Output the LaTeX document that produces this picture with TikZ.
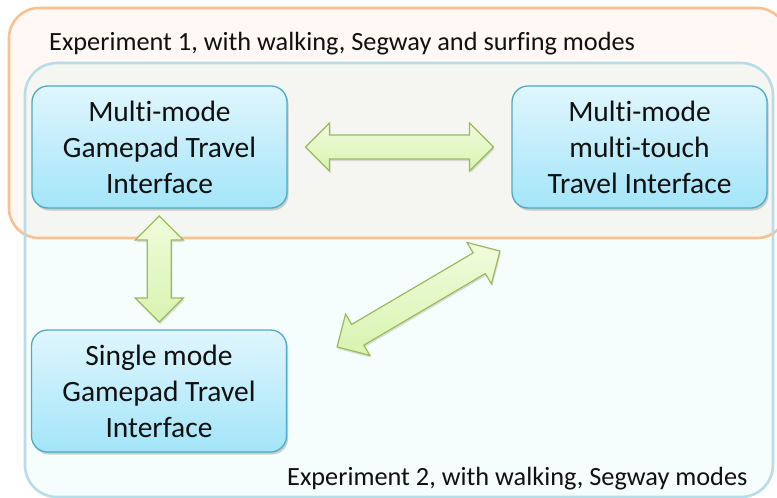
\documentclass[tikz,border=0pt]{standalone}
\usepackage{fontspec}
\setmainfont{Carlito}[Ligatures={NoCommon}]
\usetikzlibrary{calc,shadows}
\definecolor{orline}{HTML}{FAC090}
\definecolor{orfill}{HTML}{FFF8F4}
\definecolor{blline}{HTML}{B7DDE8}
\definecolor{blfill}{HTML}{F5FDFD}
\definecolor{ovfill}{HTML}{F5F6F1}
\definecolor{boxtop}{HTML}{E0F6FD}
\definecolor{boxbot}{HTML}{A3E5F9}
\definecolor{boxline}{HTML}{4DABC6}
\definecolor{arrtop}{HTML}{F0FCDC}
\definecolor{arrbot}{HTML}{D8F3B0}
\definecolor{arrline}{HTML}{9BBB59}
\definecolor{txt}{HTML}{111111}
\begin{document}
\begin{tikzpicture}[x=1pt,y=-1pt,
  ibox/.style={draw=boxline, line width=1.3pt, rounded corners=16pt,
    top color=boxtop, bottom color=boxbot,
    minimum width=255pt, minimum height=122pt, align=center, inner sep=0pt,
    font=\fontsize{29.5}{36}\selectfont, text=txt,
    drop shadow={shadow xshift=1.5pt, shadow yshift=-2.5pt, opacity=0.3, fill=black!60}},
  lbl/.style={font=\fontsize{26.3}{30}\selectfont, text=txt, inner sep=0pt},
  arrsty/.style={draw=arrline, line width=1.2pt, top color=arrtop, bottom color=arrbot,
    drop shadow={shadow xshift=1pt, shadow yshift=-2pt, opacity=0.25, fill=black!50}},
  pics/dblarrow/.style={code={
    \path[arrsty] (-#1,0) -- (-#1+24,-24) -- (-#1+24,-12) -- (#1-24,-12) -- (#1-24,-24)
      -- (#1,0) -- (#1-24,24) -- (#1-24,12) -- (-#1+24,12) -- (-#1+24,24) -- cycle;}}
]
\useasboundingbox (0,0) rectangle (777,498);
\begin{scope}
  \clip (0,0) rectangle (777,498);
  \fill[orfill, rounded corners=30pt] (9,8) rectangle (787,238);
  \fill[blfill, rounded corners=32pt] (25,63) rectangle (773,497);
  \begin{scope}
    \clip[rounded corners=30pt] (9,8) rectangle (787,238);
    \fill[ovfill, rounded corners=32pt] (25,63) rectangle (773,497);
  \end{scope}
  \draw[orline, line width=2.6pt, rounded corners=30pt] (9,8) rectangle (787,238);
  \draw[blline, line width=2.6pt, rounded corners=32pt] (25,63) rectangle (773,497);
\end{scope}

\node[lbl, anchor=base west] (e1) at (49,50.5) {Experiment 1, with walking, Segway and surfing modes};
\node[lbl, anchor=base west] (e2) at (287,485.5) {Experiment 2, with walking, Segway modes};

\node[ibox] (A) at (159.5,147) {Multi-mode\\Gamepad Travel\\Interface};
\node[ibox] (B) at (639.5,147) {Multi-mode\\multi-touch\\Travel Interface};
\node[ibox] (C) at (159,391) {Single mode\\Gamepad Travel\\Interface};

\path ($(A.east)!0.5!(B.west)$) pic {dblarrow=94};
\path ($(A.south)!0.5!(C.north)$) pic[rotate=90] {dblarrow=53};
\coordinate (dm) at (418.5,299);
\path (dm) pic[rotate=30.5] {dblarrow=94.5};
\end{tikzpicture}
\end{document}
